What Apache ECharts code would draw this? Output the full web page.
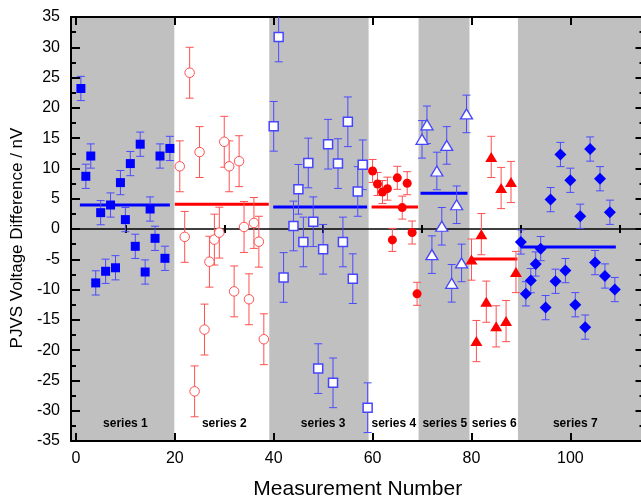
<!DOCTYPE html>
<html><head><meta charset="utf-8">
<script src="https://cdn.jsdelivr.net/npm/echarts@6/dist/echarts.min.js"></script>
<style>html,body{margin:0;padding:0;background:#fff}#c{width:641px;height:502px}</style>
</head><body><div id="c"></div>
<script>
// ---- tick labels / layout values ----
const xTickValues = [0, 20, 40, 60, 80, 100];
const xMinorTickValues = [10, 30, 50, 70, 90, 110];
const groupNames = ['series 1', 'series 2', 'series 3', 'series 4', 'series 5', 'series 6', 'series 7'];
const groupLabelX = [10, 30, 50, 64.3, 74.6, 84.6, 101];
const groupLabelY = -32.1;
const bandStart = [-1, 39.1, 69.3, 89.4];
const bandEnd = [19.9, 59.2, 79.6, 115];

// ---- data ----
const s1X = [1,2,3,4,5,6,7,8,9,10,11,12,13,14,15,16,17,18,19];
const s1Y = [23.2,8.7,12.05,-8.9,2.7,-6.98,3.96,-6.4,7.66,1.55,10.8,-2.86,14.0,-7.1,3.3,-1.54,12.05,-4.84,13.3];
const s1Err = 2.0;

const s2X = [21,22,23,24,25,26,27,28,29,30,31,32,33,34,35,36,37,38];
const s2Y = [10.35,-1.3,25.8,-26.8,12.7,-16.6,-5.4,-1.75,-0.6,14.4,10.35,-10.3,11.2,0.33,-11.6,1.0,-2.1,-18.2];
const s2Err = 4.2;

const s3X = [40,41,42,44,45,46,47,48,49,50,51,52,53,54,55,56,57,58,59];
const s3Y = [16.95,31.7,-8.0,0.5,6.55,-2.14,10.9,1.2,-23.05,-3.35,14.0,-25.4,10.8,-2.14,17.7,-8.2,6.2,10.6,-29.5];
const s3Err = 4.1;

const s4X = [60,61,62,63,64,65,66,67,68,69];
const s4Y = [9.58,7.43,6.1,6.66,-1.8,8.45,3.53,7.56,-0.58,-10.7];
const s4Err = 1.9;

const s5X = [70,71,72,73,74,75,76,77,78,79];
const s5Y = [14.8,17.2,-4.23,9.58,0.45,13.8,-8.97,4.0,-5.6,19.0];
const s5Err = 3.1;

const s6X = [80,81,82,83,84,85,86,87,88,89];
const s6Y = [-5.05,-18.5,-0.85,-12.0,11.9,-16.07,6.77,-15.2,7.76,-7.1];
const s6Err = 3.4;

const s7X = [90,91,92,93,94,95,96,97,98,99,100,101,102,103,104,105,106,107,108,109];
const s7Y = [-2.14,-10.7,-8.52,-5.78,-3.24,-12.98,4.85,-8.63,12.3,-6.87,8.04,-12.5,2.1,-16.2,13.2,-5.55,8.3,-7.76,2.76,-10.0];
const s7Err = 2.0;

const meanY = [3.96, 4.08, 3.63, 3.63, 5.9, -4.95, -2.97];
const meanFrom = [0.8, 20.0, 39.9, 59.8, 69.7, 79.85, 89.9];
const meanTo = [19.0, 39.0, 58.9, 69.2, 79.2, 89.3, 109.2];
const meanColor = ['#0000ff', '#ff0000', '#0000ff', '#ff0000', '#0000ff', '#ff0000', '#0000ff'];

// ---- styles ----
const BLUE = '#0000ff', RED = '#ff0000';
const BLUE_BAR = '#4b4bff', RED_BAR = '#ff5050';
const FONT = 'Liberation Sans, Arial, sans-serif';

function errorSeries(xs, ys, err, color) {
  return {
    type: 'custom', z: 3, clip: true, silent: true,
    data: xs.map((x, i) => [x, ys[i] - err, ys[i] + err]),
    encode: { x: 0, y: [1, 2] },
    renderItem(params, api) {
      const x = api.value(0);
      const lo = api.coord([x, api.value(1)]);
      const hi = api.coord([x, api.value(2)]);
      const hw = 4, st = { stroke: color, lineWidth: 1 };
      return { type: 'group', children: [
        { type: 'line', shape: { x1: lo[0], y1: lo[1], x2: hi[0], y2: hi[1] }, style: st },
        { type: 'line', shape: { x1: lo[0] - hw, y1: lo[1], x2: lo[0] + hw, y2: lo[1] }, style: st },
        { type: 'line', shape: { x1: hi[0] - hw, y1: hi[1], x2: hi[0] + hw, y2: hi[1] }, style: st }
      ]};
    }
  };
}
function pointSeries(xs, ys, symbol, size, fill, border, bw) {
  return {
    type: 'scatter', z: 5, symbol, symbolSize: size, silent: true,
    data: xs.map((x, i) => [x, ys[i]]),
    itemStyle: { color: fill, borderColor: border, borderWidth: bw, opacity: 1 }
  };
}

const chart = echarts.init(document.getElementById('c'), null, { renderer: 'canvas' });
const axisLineStyle = { color: '#000', width: 2 };
const hiddenLabel = { show: false };

const option = {
  animation: false,
  backgroundColor: '#fff',
  grid: { left: 71, right: -3.5, top: 17, bottom: 61, containLabel: false, outerBoundsMode: 'none' },
  xAxis: [
    { type: 'value', position: 'bottom', min: -1, max: 115,
      axisLine: { show: true, onZero: false, lineStyle: axisLineStyle },
      axisTick: { show: true, inside: true, length: 8, customValues: xTickValues, lineStyle: { color: '#000', width: 2 } },
      axisLabel: { show: true, customValues: xTickValues, fontSize: 16, color: '#000', margin: 10, fontFamily: FONT },
      splitLine: { show: false },
      name: 'Measurement Number', nameLocation: 'middle', nameGap: 38,
      nameTextStyle: { fontSize: 21, color: '#000', fontFamily: FONT } },
    { type: 'value', position: 'bottom', min: -1, max: 115,
      axisLine: { show: false },
      axisTick: { show: true, inside: true, length: 4, customValues: xMinorTickValues, lineStyle: { color: '#000', width: 2 } },
      axisLabel: hiddenLabel, splitLine: { show: false } },
    { type: 'value', position: 'top', min: -1, max: 115,
      axisLine: { show: true, onZero: false, lineStyle: axisLineStyle },
      axisTick: { show: true, inside: true, length: 8, customValues: xTickValues, lineStyle: { color: '#000', width: 2 } },
      axisLabel: hiddenLabel, splitLine: { show: false } },
    { type: 'value', position: 'top', min: -1, max: 115,
      axisLine: { show: false },
      axisTick: { show: true, inside: true, length: 4, customValues: xMinorTickValues, lineStyle: { color: '#000', width: 2 } },
      axisLabel: hiddenLabel, splitLine: { show: false } }
  ],
  yAxis: [
    { type: 'value', position: 'left', min: -35, max: 35, interval: 5,
      axisLine: { show: true, onZero: false, lineStyle: axisLineStyle },
      axisTick: { show: true, inside: true, length: 9, lineStyle: { color: '#000', width: 2 } },
      minorTick: { show: true, splitNumber: 2, length: 5, lineStyle: { color: '#000', width: 2 } },
      axisLabel: { fontSize: 16, color: '#000', margin: 11, fontFamily: FONT },
      splitLine: { show: false }, minorSplitLine: { show: false },
      name: 'PJVS Voltage Difference / nV', nameLocation: 'middle', nameGap: 44, nameRotate: 90,
      nameTextStyle: { fontSize: 17, color: '#000', fontFamily: FONT, padding: [0, 18, 0, 0] } },
    { type: 'value', position: 'right', min: -35, max: 35, interval: 5,
      axisLine: { show: true, onZero: false, lineStyle: axisLineStyle },
      axisTick: { show: true, inside: true, length: 9, lineStyle: { color: '#000', width: 2 } },
      minorTick: { show: true, splitNumber: 2, length: 5, lineStyle: { color: '#000', width: 2 } },
      axisLabel: hiddenLabel, splitLine: { show: false } }
  ],
  series: [
    // grey bands
    { type: 'custom', z: 0, clip: true, silent: true,
      data: bandStart.map((s, i) => [s, bandEnd[i]]),
      encode: { x: [0, 1] },
      renderItem(params, api) {
        const a = api.coord([api.value(0), 35]);
        const b = api.coord([api.value(1), -35]);
        return { type: 'rect', shape: { x: a[0], y: a[1], width: b[0] - a[0], height: b[1] - a[1] },
                 style: { fill: '#c0c0c0' } };
      } },
    // zero line
    { type: 'custom', z: 1, clip: true, silent: true,
      data: [[-1, 115]], encode: { x: [0, 1] },
      renderItem(params, api) {
        const a = api.coord([api.value(0), 0]);
        const b = api.coord([api.value(1), 0]);
        return { type: 'line', shape: { x1: a[0], y1: a[1], x2: b[0], y2: b[1] }, style: { stroke: '#000', lineWidth: 1.6 } };
      } },
    // mean lines
    { type: 'custom', z: 2, clip: true, silent: true,
      data: meanY.map((y, i) => [meanFrom[i], meanTo[i], y, i]),
      encode: { x: [0, 1], y: 2 },
      renderItem(params, api) {
        const a = api.coord([api.value(0), api.value(2)]);
        const b = api.coord([api.value(1), api.value(2)]);
        return { type: 'line', shape: { x1: a[0], y1: a[1], x2: b[0], y2: b[1] },
                 style: { stroke: meanColor[api.value(3)], lineWidth: 3 } };
      } },
    errorSeries(s1X, s1Y, s1Err, BLUE_BAR),
    errorSeries(s2X, s2Y, s2Err, RED_BAR),
    errorSeries(s3X, s3Y, s3Err, BLUE_BAR),
    errorSeries(s4X, s4Y, s4Err, RED_BAR),
    errorSeries(s5X, s5Y, s5Err, BLUE_BAR),
    errorSeries(s6X, s6Y, s6Err, RED_BAR),
    errorSeries(s7X, s7Y, s7Err, BLUE_BAR),
    pointSeries(s1X, s1Y, 'rect', 9, BLUE, BLUE, 0),
    pointSeries(s2X, s2Y, 'circle', 9.5, '#ffffff', RED_BAR, 1),
    pointSeries(s3X, s3Y, 'rect', 9, '#ffffff', '#4545ff', 1.5),
    pointSeries(s4X, s4Y, 'circle', 9, RED, RED, 0),
    pointSeries(s5X, s5Y, 'triangle', [12, 10], '#ffffff', '#4545ff', 1.3),
    pointSeries(s6X, s6Y, 'triangle', [12, 10], RED, RED, 0),
    pointSeries(s7X, s7Y, 'diamond', 12, BLUE, BLUE, 0),
    // group labels
    { type: 'custom', z: 6, silent: true, clip: false,
      data: groupLabelX.map((x, i) => [x, groupLabelY, i]),
      encode: { x: 0, y: 1 },
      renderItem(params, api) {
        const p = api.coord([api.value(0), api.value(1)]);
        return { type: 'text', x: p[0], y: p[1],
                 style: { text: groupNames[api.value(2)], fill: '#000', font: 'bold 12px ' + FONT,
                          align: 'center', verticalAlign: 'middle' } };
      } }
  ]
};
chart.setOption(option);
</script>
</body></html>
